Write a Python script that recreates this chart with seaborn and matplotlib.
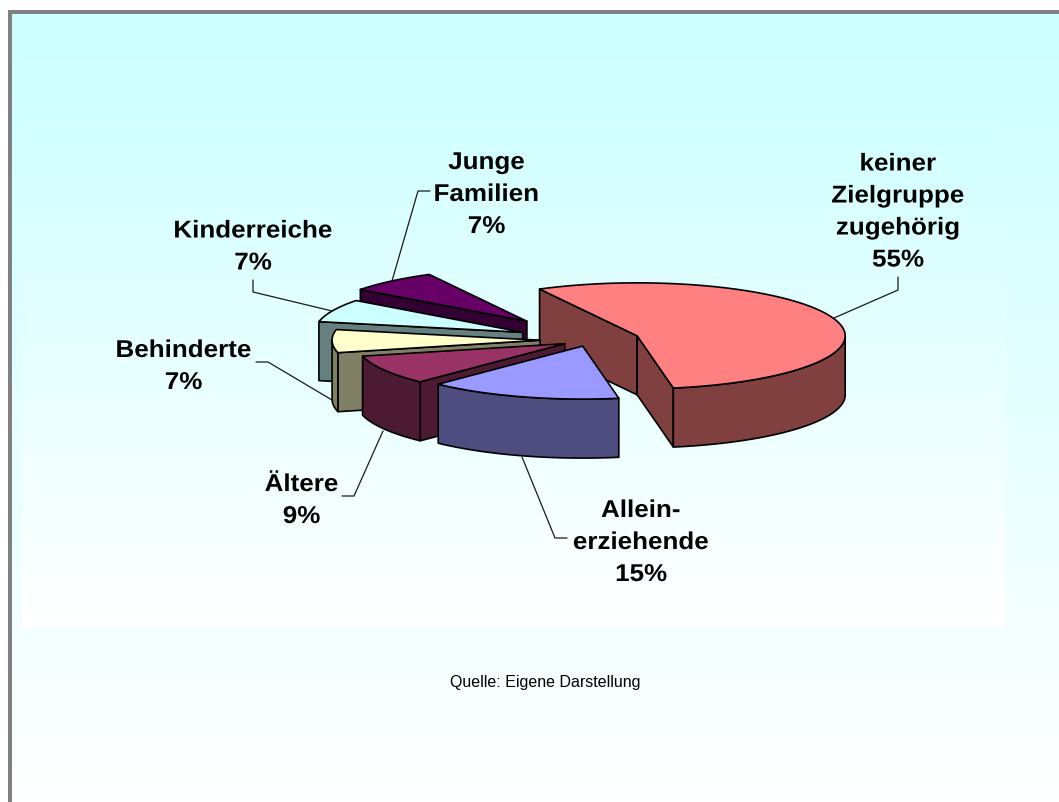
import numpy as np
import matplotlib
matplotlib.use("Agg")
import matplotlib.pyplot as plt
import matplotlib.patheffects as pe
from matplotlib.patches import Polygon, Rectangle
from matplotlib.transforms import Affine2D
from matplotlib.colors import LinearSegmentedColormap
import seaborn as sns

# ---- data ----
categories = ["keiner\nZielgruppe\nzugehörig", "Allein-\nerziehende", "Ältere",
              "Behinderte", "Kinderreiche", "Junge\nFamilien"]
shares = [55, 15, 9, 7, 7, 7]
top_colors = ["#FF8080", "#9999FF", "#993366", "#FFFFCC", "#CCFFFF", "#660066"]
source_note = "Quelle: Eigene Darstellung"

# ---- pie layout (pixels) ----
explode = [0.24, 0.12, 0.14, 0.24, 0.355, 0.466]
START = 118.0
CX, CY, RX, RY, DEPTH = 590.0, 341.0, 208.0, 53.0, 59.0
draw_order = [0, 5, 4, 3, 2, 1]

# label anchor = centre x, baseline of last line
label_xy = [(898, 267.5), (641, 582), (301.5, 524), (183.5, 390), (253, 270.5), (486.5, 234)]
leaders = [
    [(898, 278), (898, 291), (834, 319)],
    [(567, 539), (555, 539), (522, 458)],
    [(342, 497), (354, 497), (383, 432)],
    [(256, 363), (268, 363), (332, 401)],
    [(253, 281), (253, 293), (332, 312)],
    [(430, 192), (418, 192), (392, 282)],
]

sns.set_theme(style="white")
plt.rcParams["font.family"] = ["Liberation Sans", "DejaVu Sans"]
palette = sns.color_palette(top_colors)
side_palette = [tuple(c * 0.5 for c in col) for col in palette]

fig = plt.figure(figsize=(10.59, 8.03), dpi=100, facecolor="white")
ax = fig.add_axes([0, 0, 1, 1])
ax.set_axis_off()

# background
cmap = LinearSegmentedColormap.from_list("bg", ["#CCFFFF", "#FFFFFF"])
ramp = np.linspace(0, 1, 256).reshape(-1, 1)
inner_ramp = np.linspace(0.1, 1, 256).reshape(-1, 1)
ax.add_patch(Rectangle((8, 11), 1060, 800, fc="#808080", ec="none", zorder=0))
ax.imshow(ramp, cmap=cmap, vmin=0, vmax=1, extent=(12, 1059, 803, 15), aspect="auto", zorder=1)
ax.imshow(inner_ramp, cmap=cmap, vmin=0, vmax=1, extent=(22, 1006, 628, 114), aspect="auto", zorder=2)
ax.set_xlim(0, 1059)
ax.set_ylim(803, 0)

# wedges
edges = np.cumsum([0] + shares) * 3.6
starts = START - edges[:-1]
ends = START - edges[1:]


def rim(ox, oy, t):
    r = np.radians(t)
    return np.column_stack([ox + RX * np.cos(r), oy - RY * np.sin(r)])


z = 5
for i in draw_order:
    mid = np.radians((starts[i] + ends[i]) / 2)
    ox = CX + explode[i] * RX * np.cos(mid)
    oy = CY - explode[i] * RY * np.sin(mid)
    apex = np.array([[ox, oy]])
    down = np.array([0, DEPTH])
    ts = np.linspace(starts[i], ends[i], 240)
    face = dict(fc=side_palette[i], ec="black", lw=1.2, joinstyle="round", zorder=z)
    # cut faces that turn towards the viewer
    for ang, visible in ((starts[i], np.cos(np.radians(starts[i])) < 0),
                         (ends[i], np.cos(np.radians(ends[i])) > 0)):
        if visible:
            p = rim(ox, oy, np.array([ang]))
            ax.add_patch(Polygon(np.vstack([apex, p, p + down, apex + down]), **face))
    # outer rim
    front = ts[np.sin(np.radians(ts)) < 0]
    if front.size:
        arc = rim(ox, oy, front)
        ax.add_patch(Polygon(np.vstack([arc, arc[::-1] + down]), **face))
    # top
    ax.add_patch(Polygon(np.vstack([apex, rim(ox, oy, ts)]), fc=palette[i], ec="black",
                         lw=1.2, joinstyle="round", zorder=z))
    z += 1


class Stretch(pe.AbstractPathEffect):
    """Widens glyphs about a vertical axis (imitates the letter-spaced original)."""

    def __init__(self, cx, sx):
        super().__init__()
        self.cx, self.sx = cx, sx

    def draw_path(self, renderer, gc, tpath, affine, rgbFace=None):
        t = affine + Affine2D().translate(-self.cx, 0).scale(self.sx, 1).translate(self.cx, 0)
        renderer.draw_path(gc, tpath, t, rgbFace)


for i, name in enumerate(categories):
    xs, ys = zip(*leaders[i])
    ax.plot(xs, ys, color="#1A1A1A", lw=0.9, zorder=20, solid_joinstyle="miter")
    x, y = label_xy[i]
    t = ax.text(x, y, f"{name}\n{shares[i]}%", ha="center", va="baseline", ma="center",
                fontsize=17.5, fontweight="bold", color="black", linespacing=1.5, zorder=21)
    t.set_path_effects([Stretch(x, 1.07)])

ax.text(545.5, 687, source_note, ha="center", va="baseline", fontsize=11.5, color="black", zorder=21)

fig.savefig("out.png", dpi=100, facecolor="white")
